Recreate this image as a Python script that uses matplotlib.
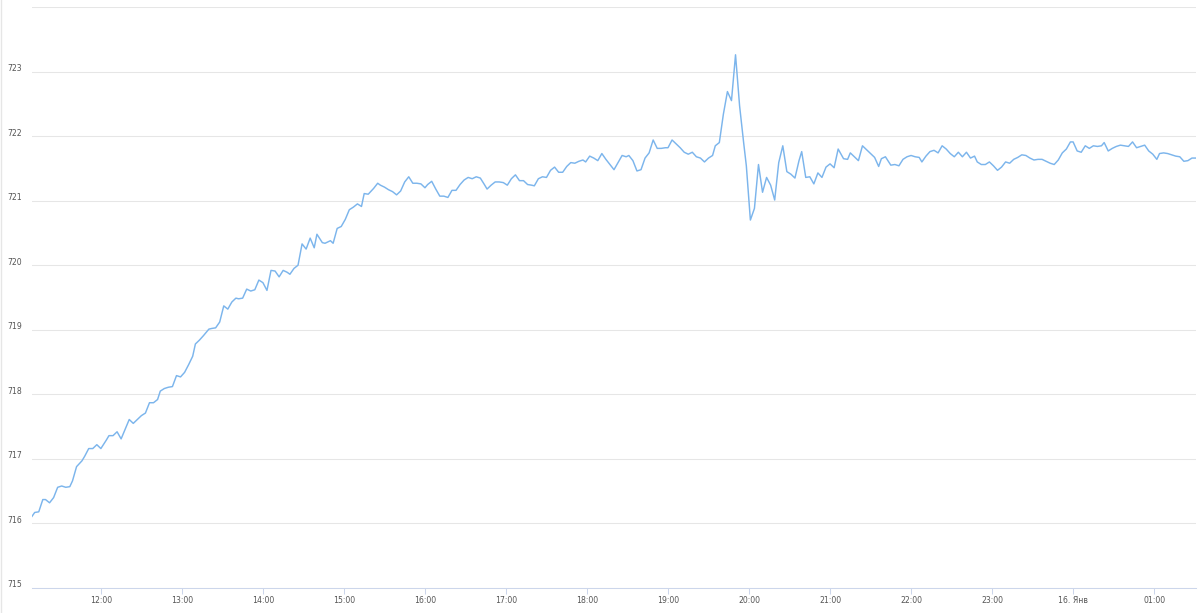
import matplotlib
matplotlib.use("Agg")
import matplotlib.pyplot as plt
from matplotlib.transforms import ScaledTranslation
from matplotlib.lines import Line2D

# minutes after 11:00 (15 Jan), pressure readings
minutes = [9, 11, 14, 17, 19, 22, 25, 28, 31, 34, 37, 39, 42, 46, 48, 51, 54, 57, 60, 64,
           66, 69, 72, 75, 78, 81, 84, 87, 90, 93, 96, 99, 102, 104, 107, 110, 113, 116, 119, 122,
           125, 128, 130, 133, 136, 140, 142, 145, 148, 151, 154, 157, 160, 162, 165, 168, 171, 174, 177, 180,
           183, 186, 189, 192, 195, 198, 200, 203, 206, 209, 212, 215, 218, 220, 224, 226, 230, 232, 235, 238,
           241, 244, 247, 250, 253, 255, 258, 262, 265, 267, 270, 273, 276, 279, 282, 285, 288, 291, 294, 297,
           300, 302, 305, 308, 311, 314, 317, 320, 323, 326, 329, 332, 335, 338, 341, 344, 346, 349, 352, 355,
           358, 361, 364, 367, 370, 373, 376, 379, 381, 384, 387, 390, 393, 396, 399, 402, 405, 408, 411, 414,
           417, 419, 422, 425, 428, 431, 434, 437, 440, 443, 446, 449, 451, 454, 457, 460, 463, 466, 469, 472,
           475, 478, 480, 483, 486, 489, 492, 495, 498, 501, 504, 507, 510, 513, 515, 518, 521, 524, 527, 530,
           533, 536, 538, 541, 544, 547, 550, 553, 556, 559, 562, 565, 568, 571, 574, 577, 579, 582, 585, 588,
           591, 594, 597, 600, 603, 606, 610, 613, 615, 618, 621, 624, 627, 630, 633, 636, 638, 641, 645, 648,
           651, 654, 657, 660, 663, 666, 668, 671, 674, 677, 680, 683, 686, 689, 692, 695, 698, 701, 704, 707,
           709, 712, 715, 718, 721, 724, 727, 730, 733, 736, 739, 742, 745, 748, 751, 754, 757, 760, 763, 766,
           769, 772, 775, 778, 780, 783, 786, 789, 792, 795, 798, 801, 803, 806, 809, 812, 815, 818, 821, 824,
           827, 830, 833, 836, 839, 842, 844, 847, 850, 853, 856, 859, 862, 865, 868, 871]

pressure = [716.11, 716.17, 716.18, 716.37, 716.37, 716.32, 716.40, 716.56, 716.58, 716.56,
            716.57, 716.66, 716.88, 716.97, 717.04, 717.16, 717.16, 717.22, 717.16, 717.29,
            717.36, 717.36, 717.42, 717.31, 717.46, 717.61, 717.55, 717.61, 717.67, 717.71,
            717.87, 717.87, 717.92, 718.05, 718.09, 718.11, 718.12, 718.29, 718.27, 718.34,
            718.46, 718.59, 718.78, 718.84, 718.91, 719.01, 719.02, 719.03, 719.12, 719.37,
            719.32, 719.43, 719.49, 719.48, 719.49, 719.63, 719.60, 719.62, 719.77, 719.73,
            719.61, 719.92, 719.91, 719.82, 719.92, 719.89, 719.86, 719.95, 720.00, 720.33,
            720.25, 720.42, 720.27, 720.48, 720.35, 720.34, 720.38, 720.34, 720.57, 720.60,
            720.71, 720.86, 720.90, 720.95, 720.91, 721.11, 721.10, 721.19, 721.27, 721.24,
            721.21, 721.17, 721.14, 721.09, 721.15, 721.29, 721.37, 721.27, 721.27, 721.26,
            721.20, 721.25, 721.30, 721.18, 721.07, 721.07, 721.05, 721.16, 721.16, 721.25,
            721.32, 721.36, 721.34, 721.37, 721.35, 721.25, 721.18, 721.24, 721.29, 721.29,
            721.28, 721.24, 721.34, 721.40, 721.31, 721.31, 721.25, 721.24, 721.23, 721.34,
            721.37, 721.36, 721.47, 721.52, 721.44, 721.44, 721.53, 721.59, 721.58, 721.61,
            721.63, 721.60, 721.69, 721.66, 721.62, 721.73, 721.64, 721.56, 721.48, 721.59,
            721.70, 721.68, 721.70, 721.62, 721.46, 721.48, 721.66, 721.74, 721.94, 721.81,
            721.81, 721.82, 721.82, 721.94, 721.88, 721.82, 721.75, 721.72, 721.75, 721.68,
            721.66, 721.60, 721.66, 721.70, 721.85, 721.90, 722.34, 722.69, 722.55, 723.26,
            722.47, 721.90, 721.54, 720.70, 720.88, 721.56, 721.13, 721.36, 721.24, 721.01,
            721.59, 721.85, 721.45, 721.41, 721.35, 721.62, 721.76, 721.36, 721.37, 721.26,
            721.43, 721.36, 721.52, 721.57, 721.51, 721.80, 721.65, 721.64, 721.74, 721.68,
            721.62, 721.85, 721.79, 721.73, 721.67, 721.53, 721.65, 721.68, 721.55, 721.56,
            721.54, 721.64, 721.68, 721.70, 721.68, 721.67, 721.60, 721.69, 721.76, 721.78,
            721.74, 721.85, 721.80, 721.73, 721.68, 721.75, 721.68, 721.75, 721.66, 721.69,
            721.60, 721.56, 721.56, 721.60, 721.54, 721.47, 721.52, 721.60, 721.58, 721.64,
            721.67, 721.71, 721.70, 721.66, 721.63, 721.64, 721.64, 721.61, 721.58, 721.56,
            721.63, 721.74, 721.80, 721.91, 721.91, 721.77, 721.75, 721.85, 721.81, 721.85,
            721.84, 721.85, 721.90, 721.77, 721.81, 721.84, 721.86, 721.85, 721.84, 721.91,
            721.82, 721.84, 721.86, 721.77, 721.72, 721.64, 721.73, 721.74, 721.73, 721.71,
            721.69, 721.68, 721.61, 721.62, 721.66, 721.66]

hour_ticks = [60, 120, 180, 240, 300, 360, 420, 480, 540, 600, 660, 720, 780, 840]
hour_labels = ["12:00", "13:00", "14:00", "15:00", "16:00", "17:00", "18:00",
               "19:00", "20:00", "21:00", "22:00", "23:00", "16. Янв", "01:00"]
y_ticks = [715, 716, 717, 718, 719, 720, 721, 722, 723, 724]
y_labels = ["715", "716", "717", "718", "719", "720", "721", "722", "723", ""]

fig = plt.figure(figsize=(12, 6.13), dpi=100)
ax = fig.add_axes([32 / 1200, 25 / 613, 1164 / 1200, 581 / 613])

ax.plot(minutes, pressure, color="#7cb5ec", linewidth=1.05, solid_joinstyle="round")

ax.set_xlim(minutes[0], minutes[-1])
ax.set_ylim(715, 724)

ax.set_yticks(y_ticks)
ax.set_yticklabels(y_labels)
ax.set_xticks(hour_ticks)
ax.set_xticklabels(hour_labels)

ax.grid(axis="y", color="#e6e6e6", linewidth=0.75)
ax.set_axisbelow(True)
for side in ["top", "right", "left"]:
    ax.spines[side].set_visible(False)
ax.spines["bottom"].set_color("#ccd6eb")
ax.spines["bottom"].set_linewidth(0.75)

ax.tick_params(axis="y", length=0, pad=7.0, labelsize=5.6, labelcolor="#555555")
ax.tick_params(axis="x", length=4.5, width=0.75, color="#ccd6eb", pad=1.2,
               labelsize=5.6, labelcolor="#555555")

shift = ScaledTranslation(0, 4 / 100, fig.dpi_scale_trans)
for lbl in ax.get_yticklabels():
    lbl.set_transform(lbl.get_transform() + shift)

# faint frame line at the left edge
fig.add_artist(Line2D([0.6 / 1200, 0.6 / 1200], [0, 1], color="#e6e6e6", linewidth=1.0))

fig.savefig("out.png", dpi=100)
